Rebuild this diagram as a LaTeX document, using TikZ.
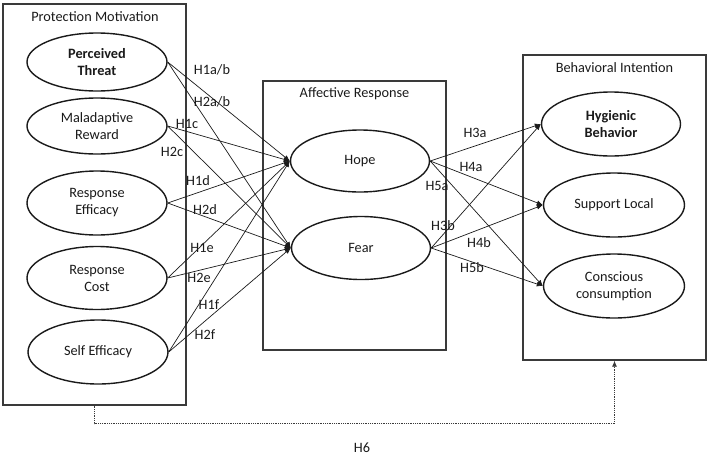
\documentclass[tikz,border=0pt]{standalone}
\usepackage{fontspec}
\setmainfont{Carlito}
\usetikzlibrary{shapes.geometric,arrows.meta}
\definecolor{ink}{HTML}{1A1A1A}
\definecolor{boxline}{HTML}{3A3A3A}
\begin{document}
\begin{tikzpicture}[x=1pt,y=-1pt,
  every node/.style={font=\fontsize{14.3}{17}\selectfont, text=ink},
  grp/.style={draw=boxline, line width=1.3pt, rectangle, inner sep=0pt},
  ttl/.style={inner sep=0pt, anchor=center},
  ell/.style={draw=ink, line width=1.4pt, ellipse, inner sep=0pt, align=center, minimum width=140, minimum height=60},
  hyp/.style={inner sep=0pt},
  con/.style={draw=ink, line width=0.7pt, -{Latex[length=6pt,width=5pt]}},
  dotcon/.style={draw=boxline, line width=0.8pt, densely dotted, -{Latex[length=6pt,width=5pt]}}
]
\useasboundingbox (0,0) rectangle (709,456);

% group boxes
\node[grp, minimum width=183, minimum height=401] (pm) at (94.5,204.5) {};
\node[grp, minimum width=183, minimum height=269] (ar) at (354.5,215.5) {};
\node[grp, minimum width=183, minimum height=305] (bi) at (614.5,207.5) {};

\node[ttl] (pmt) at (95,17) {Protection Motivation};
\node[ttl] (art) at (354.5,94) {Affective Response};
\node[ttl] (bit) at (614.5,68) {Behavioral Intention};

% left constructs
\node[ell, minimum height=58] (pt) at (97,62) {\textbf{Perceived}\\\textbf{Threat}};
\node[ell, minimum height=56] (mr) at (97,126) {Maladaptive\\Reward};
\node[ell, minimum height=64] (re) at (97,203) {Response\\Efficacy};
\node[ell, minimum height=63] (rc) at (97,278) {Response\\Cost};
\node[ell, minimum height=64] (se) at (98,352) {Self Efficacy};

% affective
\node[ell, minimum width=139, minimum height=62] (hope) at (360,161) {Hope};
\node[ell, minimum width=139, minimum height=63] (fear) at (361,248) {Fear};

% behavioral
\node[ell, minimum width=139, minimum height=64] (hb) at (611,124) {\textbf{Hygienic}\\\textbf{Behavior}};
\node[ell, minimum width=141, minimum height=64] (sl) at (614,205) {Support Local};
\node[ell, minimum width=141, minimum height=64] (cc) at (614,286) {Conscious\\consumption};

% connectors left -> affective
\foreach \s in {pt,mr,re,rc,se}{
  \draw[con] (\s.east) -- (hope.west);
  \draw[con] (\s.east) -- (fear.west);
}
% connectors affective -> behavioral
\foreach \s in {hope,fear}{
  \draw[con] (\s.east) -- (hb.west);
  \draw[con] (\s.east) -- (sl.west);
  \draw[con] (\s.east) -- (cc.west);
}
% H6 dotted
\draw[dotcon] (pm.south) -- ++(0,18) -| (bi.south);

% hypothesis labels
\node[hyp] (h1ab) at (212,70) {H1a/b};
\node[hyp] (h2ab) at (212,102) {H2a/b};
\node[hyp] (h1c) at (187,124) {H1c};
\node[hyp] (h2c) at (172,152) {H2c};
\node[hyp] (h1d) at (198,181) {H1d};
\node[hyp] (h2d) at (205,210) {H2d};
\node[hyp] (h1e) at (202,248) {H1e};
\node[hyp] (h2e) at (199,278) {H2e};
\node[hyp] (h1f) at (209,305) {H1f};
\node[hyp] (h2f) at (205,335) {H2f};
\node[hyp] (h3a) at (475,133) {H3a};
\node[hyp] (h4a) at (471,167) {H4a};
\node[hyp] (h5a) at (437,186) {H5a};
\node[hyp] (h3b) at (443,226) {H3b};
\node[hyp] (h4b) at (479,243) {H4b};
\node[hyp] (h5b) at (472,268) {H5b};
\node[hyp] (h6) at (362,448) {H6};
\end{tikzpicture}
\end{document}
